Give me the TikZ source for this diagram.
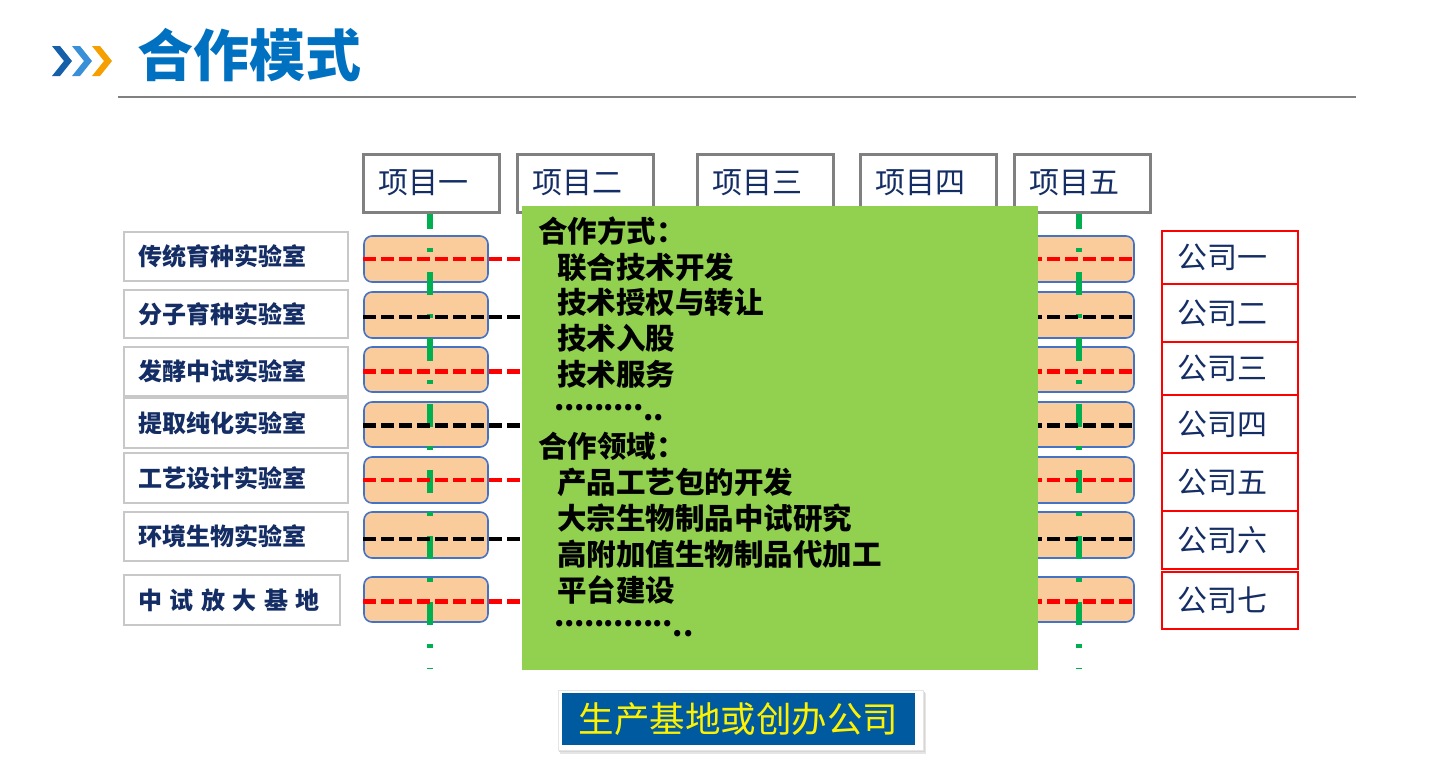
\documentclass[tikz,border=0pt]{standalone}
\usepackage{fontspec}
\newfontfamily\cjk{Noto Sans CJK SC}
\definecolor{navy}{RGB}{20,45,100}
\definecolor{titleblue}{RGB}{0,112,192}
\definecolor{chevA}{RGB}{21,96,168}
\definecolor{chevB}{RGB}{58,143,217}
\definecolor{chevC}{RGB}{245,160,0}
\definecolor{orangefill}{RGB}{251,204,155}
\definecolor{orangeedge}{RGB}{68,114,196}
\definecolor{boxgreen}{RGB}{146,208,80}
\definecolor{linegreen}{RGB}{0,176,80}
\definecolor{basefill}{RGB}{0,90,160}
\definecolor{labedge}{RGB}{200,200,200}
\definecolor{projedge}{RGB}{128,128,128}
\newcommand\mdt{\makebox[9.8pt][c]{.}}
\begin{document}
\begin{tikzpicture}[x=1pt,y=-1pt,
  labbox/.style={draw=labedge, line width=2pt, fill=white, inner xsep=14pt, inner ysep=0pt,
    align=left, text=navy, font=\cjk\bfseries\fontsize{24}{27}\selectfont},
  projbox/.style={draw=projedge, line width=3pt, fill=white, inner xsep=15pt, inner ysep=0pt,
    minimum height=58pt, text width=106pt, align=left, text=navy, font=\cjk\fontsize{30}{33}\selectfont},
  orbox/.style={draw=orangeedge, line width=1.6pt, fill=orangefill, rounded corners=8pt,
    minimum width=124pt, inner sep=0pt},
  compbox/.style={draw=red, line width=2pt, fill=white, inner xsep=15pt, inner ysep=0pt,
    text width=106pt, align=left, text=navy, font=\cjk\fontsize{30}{33}\selectfont},
  gline/.style={draw=linegreen, line width=6pt, dash pattern=on 23pt off 19pt on 4pt off 20pt, dash phase=8pt},
  redline/.style={draw=red, line width=4.5pt, dash pattern=on 13pt off 5pt},
  blackline/.style={draw=black, line width=4.5pt, dash pattern=on 13pt off 5pt},
  gtext/.style={anchor=west, inner sep=0pt, text=black, font=\cjk\bfseries\fontsize{29.5}{32}\selectfont}
]
\useasboundingbox (0,0) rectangle (1441,763);

% title
\foreach \dx/\c in {0/chevA,20/chevB,40/chevC}
  \fill[\c] ({52+\dx},46) -- ({60+\dx},46) -- ({72+\dx},61) -- ({60+\dx},76) -- ({52+\dx},76) -- ({64+\dx},61) -- cycle;
\node[anchor=west, inner sep=0pt, text=titleblue, font=\cjk\bfseries\fontsize{56}{60}\selectfont] (title) at (137,55) {合作模式};
\draw[projedge, line width=2pt] (118,97) -- (1356,97);

% left lab boxes
\node[labbox, text width=196pt, minimum height=49pt] (l1) at (236,256.5) {传统育种实验室};
\node[labbox, text width=196pt, minimum height=48pt] (l2) at (236,314) {分子育种实验室};
\node[labbox, text width=196pt, minimum height=49pt] (l3) at (236,371.5) {发酵中试实验室};
\node[labbox, text width=196pt, minimum height=50pt] (l4) at (236,423) {提取纯化实验室};
\node[labbox, text width=196pt, minimum height=50pt] (l5) at (236,478) {工艺设计实验室};
\node[labbox, text width=196pt, minimum height=49pt] (l6) at (236,536.5) {环境生物实验室};
\node[labbox, text width=188pt, minimum height=50pt] (l7) at (232,600) {中\hspace{7.5pt}试\hspace{7.5pt}放\hspace{7.5pt}大\hspace{7.5pt}基\hspace{7.5pt}地};

% project boxes
\node[projbox] (p1) at (431.5,183) {项目一};
\node[projbox] (p2) at (585.5,183) {项目二};
\node[projbox] (p3) at (765.5,183) {项目三};
\node[projbox] (p4) at (928,183) {项目四};
\node[projbox] (p5) at (1082.5,183) {项目五};

% orange boxes, columns 1 and 5
\foreach \r/\y/\h in {1/259/46,2/315/46,3/369.5/45,4/424.5/45,5/480/46,6/535/46,7/599.5/45}{
  \node[orbox, minimum height=\h pt] (a\r) at (426,\y) {};
  \node[orbox, minimum height=\h pt] (e\r) at (1072,\y) {};
}

% green vertical dash-dot lines
\coordinate (g1e) at (430,668);
\coordinate (g5e) at (1079,668);
\draw[gline] (p1.south -| g1e) -- (g1e);
\draw[gline] (p5.south -| g5e) -- (g5e);

% horizontal dashed connectors
\draw[redline]   (a1.west) -- (e1.east);
\draw[blackline] ([yshift=-2pt]a2.west) -- ([yshift=-2pt]e2.east);
\draw[redline]   ([yshift=-2pt]a3.west) -- ([yshift=-2pt]e3.east);
\draw[blackline] ([yshift=-1pt]a4.west) -- ([yshift=-1pt]e4.east);
\draw[redline]   (a5.west) -- (e5.east);
\draw[blackline] ([yshift=-4pt]a6.west) -- ([yshift=-4pt]e6.east);
\draw[redline]   ([yshift=-2pt]a7.west) -- ([yshift=-2pt]e7.east);

% green info box
\node[fill=boxgreen, minimum width=516pt, minimum height=464pt, inner sep=0pt] (info) at (780,438) {};
\foreach \i/\x/\t in {0/538/合作方式：,1/557/联合技术开发,2/557/技术授权与转让,3/557/技术入股,4/557/技术服务,6/538/合作领域：,7/557/产品工艺包的开发,8/557/大宗生物制品中试研究,9/557/高附加值生物制品代加工,10/557/平台建设}
  \node[gtext] (gt\i) at (\x,{231+35.9*\i}) {\t};
\node[gtext, anchor=base west] (gt5) at (555,420) {\smash{\raisebox{10pt}{\mdt\mdt\mdt\mdt\mdt\mdt\mdt\mdt\mdt}..}};
\node[gtext, anchor=base west] (gt11) at (555,636) {\smash{\raisebox{10pt}{\mdt\mdt\mdt\mdt\mdt\mdt\mdt\mdt\mdt\mdt\mdt\mdt}..}};

% company boxes
\node[compbox, minimum height=53pt] (c1) at (1230,257.5) {公司一};
\node[compbox, minimum height=58pt] (c2) at (1230,313) {公司二};
\node[compbox, minimum height=53pt] (c3) at (1230,368.5) {公司三};
\node[compbox, minimum height=58pt] (c4) at (1230,424) {公司四};
\node[compbox, minimum height=58pt] (c5) at (1230,482) {公司五};
\node[compbox, minimum height=58pt] (c6) at (1230,540) {公司六};
\node[compbox, minimum height=57pt] (c7) at (1230,600.5) {公司七};

% bottom box
\fill[black!10] (560,693) rectangle (926,754);
\fill[black!16] (559,692) rectangle (925,752);
\fill[white] (558,690) rectangle (923,750);
\draw[black!10, line width=0.8pt] (558,690) rectangle (923,750);
\node[fill=basefill, minimum width=353pt, minimum height=52pt, inner sep=0pt, text=yellow,
  font=\cjk\fontsize{35.5}{38}\selectfont] (base) at (738.5,719) {生产基地或创办公司};
\end{tikzpicture}
\end{document}
